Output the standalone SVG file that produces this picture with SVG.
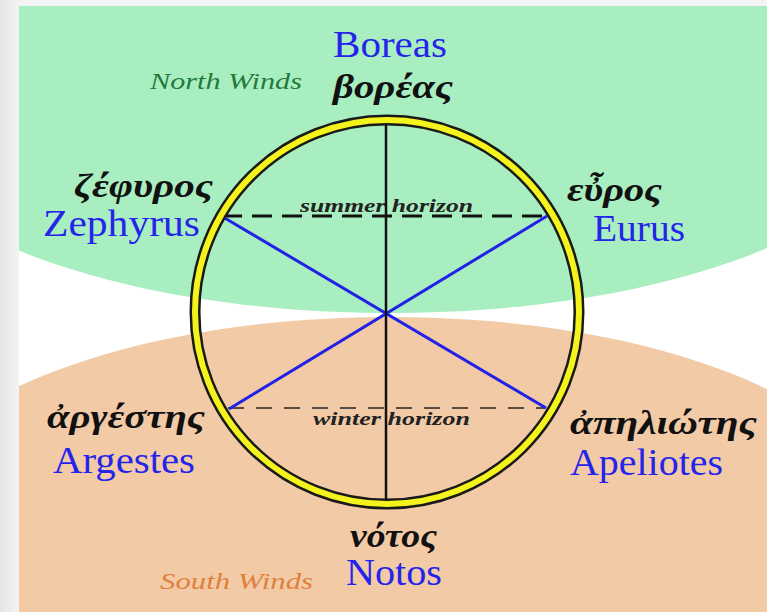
<svg xmlns="http://www.w3.org/2000/svg" width="767" height="612" viewBox="0 0 767 612">
<defs>
<clipPath id="area"><rect x="19" y="6" width="748" height="606"/></clipPath>
<linearGradient id="edge" x1="0" y1="0" x2="1" y2="0"><stop offset="0" stop-color="#e6e6e6"/><stop offset="1" stop-color="#f4f4f4"/></linearGradient>
<style>
text{font-family:"Liberation Serif","DejaVu Serif",serif;}
.en{fill:#2424ea;font-size:37px;}
.gr{fill:#111;font-size:34px;font-weight:bold;font-style:italic;}
.hz{fill:#222;font-size:19px;font-style:italic;font-weight:bold;}
.lab{font-size:24px;font-style:italic;}
</style>
</defs>
<rect x="0" y="0" width="767" height="612" fill="#f3f3f3"/>
<rect x="0" y="0" width="19" height="612" fill="url(#edge)"/>
<g clip-path="url(#area)">
<rect x="19" y="6" width="748" height="606" fill="#ffffff"/>
<ellipse cx="390" cy="113" rx="511" ry="200" fill="#a8eec0"/>
<ellipse cx="390" cy="517" rx="490" ry="200" fill="#f2caa6"/>
</g>
<g id="connectors">
<line x1="222" y1="216" x2="548" y2="216" stroke="#111" stroke-width="3" stroke-dasharray="20 10"/>
<line x1="228" y1="408" x2="545" y2="408" stroke="#222" stroke-width="1.5" stroke-dasharray="16 12"/>
<line x1="223" y1="217" x2="546" y2="408" stroke="#2222e6" stroke-width="3"/>
<line x1="547" y1="216" x2="229" y2="409" stroke="#2222e6" stroke-width="3"/>
<line x1="386" y1="118" x2="386" y2="502" stroke="#111" stroke-width="2.5"/>
</g>
<g id="horizon">
<circle cx="387" cy="312" r="192" fill="none" stroke="#1a1a1a" stroke-width="11"/>
<circle cx="387" cy="312" r="192" fill="none" stroke="#f4f41c" stroke-width="6"/>
</g>
<g id="summer-horizon"><text class="hz" x="300" y="212" textLength="173" lengthAdjust="spacingAndGlyphs">summer horizon</text></g>
<g id="winter-horizon"><text class="hz" x="313" y="425" textLength="157" lengthAdjust="spacingAndGlyphs">winter horizon</text></g>
<g id="north-winds"><text class="lab" x="150" y="89" fill="#237a3c" textLength="152" lengthAdjust="spacingAndGlyphs">North Winds</text></g>
<g id="south-winds"><text class="lab" x="160" y="589" fill="#e0803c" textLength="153" lengthAdjust="spacingAndGlyphs">South Winds</text></g>
<g id="boreas">
<text class="en" x="333" y="57" font-size="38" textLength="114" lengthAdjust="spacingAndGlyphs">Boreas</text>
<text class="gr" x="333" y="98" font-size="36" textLength="120" lengthAdjust="spacingAndGlyphs">βορέας</text>
</g>
<g id="zephyrus">
<text class="gr" x="74" y="197" textLength="139" lengthAdjust="spacingAndGlyphs">ζέφυρος</text>
<text class="en" x="43" y="236" textLength="157" lengthAdjust="spacingAndGlyphs">Zephyrus</text>
</g>
<g id="eurus">
<text class="gr" x="567" y="201" textLength="95" lengthAdjust="spacingAndGlyphs">εὖρος</text>
<text class="en" x="593" y="241" textLength="92" lengthAdjust="spacingAndGlyphs">Eurus</text>
</g>
<g id="argestes">
<text class="gr" x="47" y="428" textLength="158" lengthAdjust="spacingAndGlyphs">ἀργέστης</text>
<text class="en" x="53" y="473" textLength="142" lengthAdjust="spacingAndGlyphs">Argestes</text>
</g>
<g id="apeliotes">
<text class="gr" x="570" y="434" textLength="187" lengthAdjust="spacingAndGlyphs">ἀπηλιώτης</text>
<text class="en" x="570" y="475" textLength="153" lengthAdjust="spacingAndGlyphs">Apeliotes</text>
</g>
<g id="notos">
<text class="gr" x="350" y="547" textLength="87" lengthAdjust="spacingAndGlyphs">νότος</text>
<text class="en" x="346" y="585" textLength="96" lengthAdjust="spacingAndGlyphs">Notos</text>
</g>
</svg>
